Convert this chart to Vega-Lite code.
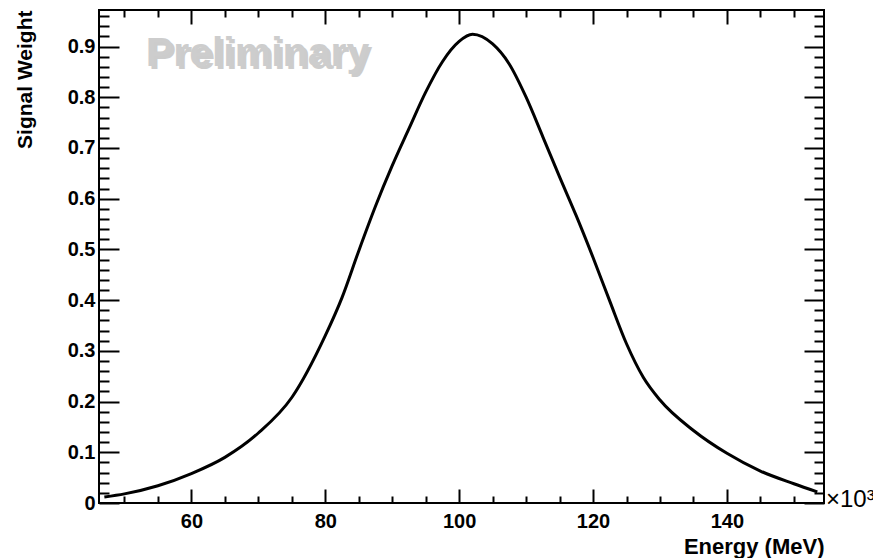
{
  "$schema": "https://vega.github.io/schema/vega-lite/v6.json",
  "width": 725,
  "height": 493,
  "autosize": {"type": "none"},
  "padding": {"left": 99, "top": 10, "right": 49, "bottom": 55},
  "background": "white",
  "config": {
    "view": {"stroke": "black", "strokeWidth": 2},
    "font": "Liberation Sans",
    "axis": {
      "domain": false,
      "grid": false,
      "tickColor": "black",
      "tickWidth": 2,
      "labelFont": "Liberation Sans",
      "labelFontWeight": "bold",
      "labelFontSize": 20,
      "labelColor": "black",
      "titleFont": "Liberation Sans",
      "titleFontWeight": "bold",
      "titleFontSize": 22,
      "titleColor": "black"
    }
  },
  "datasets": {
    "curve": [
      {"energy": 47.0, "weight": 0.012},
      {"energy": 50.0, "weight": 0.018},
      {"energy": 55.0, "weight": 0.034},
      {"energy": 60.0, "weight": 0.058},
      {"energy": 65.0, "weight": 0.090},
      {"energy": 70.0, "weight": 0.138},
      {"energy": 75.0, "weight": 0.208},
      {"energy": 80.0, "weight": 0.330},
      {"energy": 82.5, "weight": 0.405},
      {"energy": 85.0, "weight": 0.497},
      {"energy": 87.5, "weight": 0.585},
      {"energy": 90.0, "weight": 0.665},
      {"energy": 92.5, "weight": 0.738},
      {"energy": 95.0, "weight": 0.810},
      {"energy": 97.5, "weight": 0.870},
      {"energy": 100.0, "weight": 0.910},
      {"energy": 102.0, "weight": 0.924},
      {"energy": 105.0, "weight": 0.905},
      {"energy": 107.5, "weight": 0.865},
      {"energy": 110.0, "weight": 0.800},
      {"energy": 112.5, "weight": 0.722},
      {"energy": 115.0, "weight": 0.643},
      {"energy": 117.5, "weight": 0.566},
      {"energy": 120.0, "weight": 0.484},
      {"energy": 122.5, "weight": 0.398},
      {"energy": 125.0, "weight": 0.314},
      {"energy": 127.5, "weight": 0.248},
      {"energy": 130.0, "weight": 0.203},
      {"energy": 135.0, "weight": 0.143},
      {"energy": 140.0, "weight": 0.098},
      {"energy": 145.0, "weight": 0.063},
      {"energy": 150.0, "weight": 0.038},
      {"energy": 153.5, "weight": 0.022}
    ],
    "labels": [
      {"label": "×10³", "energy": 154.5, "weight": 0},
      {"label": "Preliminary", "energy": 53.2, "weight": 0.862}
    ]
  },
  "resolve": {"axis": {"x": "independent", "y": "independent"}},
  "layer": [
    {
      "data": {"name": "curve"},
      "mark": {"type": "line", "color": "black", "strokeWidth": 3, "interpolate": "monotone"},
      "encoding": {
        "x": {
          "field": "energy", "type": "quantitative",
          "scale": {"domain": [46.2, 154.5], "nice": false, "zero": false},
          "axis": {
            "orient": "bottom", "values": [60, 80, 100, 120, 140], "tickSize": -14,
            "labelPadding": 22, "title": "Energy (MeV)", "titleAnchor": "end",
            "titleAlign": "right", "titleX": 725, "titleY": 50, "titleBaseline": "alphabetic"
          }
        },
        "y": {
          "field": "weight", "type": "quantitative",
          "scale": {"domain": [0, 0.972], "nice": false, "zero": true},
          "axis": {
            "orient": "left", "values": [0, 0.1, 0.2, 0.3, 0.4, 0.5, 0.6, 0.7, 0.8, 0.9],
            "format": ".1~f", "tickSize": -20, "labelPadding": 24,
            "title": "Signal Weight", "titleAngle": -90, "titleAlign": "right",
            "titleBaseline": "middle", "titleX": -74, "titleY": 0, "titleFontSize": 21
          }
        }
      }
    },
    {
      "data": {"name": "curve"},
      "mark": {"type": "line", "opacity": 0},
      "encoding": {
        "x": {
          "field": "energy", "type": "quantitative",
          "scale": {"domain": [46.2, 154.5], "nice": false, "zero": false},
          "axis": {"orient": "bottom", "values": [50, 55, 65, 70, 75, 85, 90, 95, 105, 110, 115, 125, 130, 135, 145, 150], "tickSize": -7, "labels": false, "title": null}
        },
        "y": {
          "field": "weight", "type": "quantitative",
          "scale": {"domain": [0, 0.972], "nice": false},
          "axis": {"orient": "left", "values": [0.02, 0.04, 0.06, 0.08, 0.12, 0.14, 0.16, 0.18, 0.22, 0.24, 0.26, 0.28, 0.32, 0.34, 0.36, 0.38, 0.42, 0.44, 0.46, 0.48, 0.52, 0.54, 0.56, 0.58, 0.62, 0.64, 0.66, 0.68, 0.72, 0.74, 0.76, 0.78, 0.82, 0.84, 0.86, 0.88, 0.92, 0.94, 0.96], "tickSize": -10, "labels": false, "title": null}
        }
      }
    },
    {
      "data": {"name": "curve"},
      "mark": {"type": "line", "opacity": 0},
      "encoding": {
        "x": {
          "field": "energy", "type": "quantitative",
          "scale": {"domain": [46.2, 154.5], "nice": false, "zero": false},
          "axis": {"orient": "top", "values": [60, 80, 100, 120, 140], "tickSize": -14, "labels": false, "title": null}
        },
        "y": {
          "field": "weight", "type": "quantitative",
          "scale": {"domain": [0, 0.972], "nice": false},
          "axis": {"orient": "right", "values": [0, 0.1, 0.2, 0.3, 0.4, 0.5, 0.6, 0.7, 0.8, 0.9], "tickSize": -20, "labels": false, "title": null}
        }
      }
    },
    {
      "data": {"name": "curve"},
      "mark": {"type": "line", "opacity": 0},
      "encoding": {
        "x": {
          "field": "energy", "type": "quantitative",
          "scale": {"domain": [46.2, 154.5], "nice": false, "zero": false},
          "axis": {"orient": "top", "values": [50, 55, 65, 70, 75, 85, 90, 95, 105, 110, 115, 125, 130, 135, 145, 150], "tickSize": -7, "labels": false, "title": null}
        },
        "y": {
          "field": "weight", "type": "quantitative",
          "scale": {"domain": [0, 0.972], "nice": false},
          "axis": {"orient": "right", "values": [0.02, 0.04, 0.06, 0.08, 0.12, 0.14, 0.16, 0.18, 0.22, 0.24, 0.26, 0.28, 0.32, 0.34, 0.36, 0.38, 0.42, 0.44, 0.46, 0.48, 0.52, 0.54, 0.56, 0.58, 0.62, 0.64, 0.66, 0.68, 0.72, 0.74, 0.76, 0.78, 0.82, 0.84, 0.86, 0.88, 0.92, 0.94, 0.96], "tickSize": -10, "labels": false, "title": null}
        }
      }
    },
    {
      "data": {"name": "labels"},
      "transform": [{"filter": "datum.label === '×10³'"}],
      "mark": {"type": "text", "align": "left", "baseline": "middle", "dx": 2, "dy": -3, "fontSize": 24, "font": "Liberation Sans", "color": "black"},
      "encoding": {
        "text": {"field": "label"},
        "x": {"field": "energy", "type": "quantitative", "axis": null},
        "y": {"field": "weight", "type": "quantitative", "axis": null}
      }
    },
    {
      "data": {"name": "labels"},
      "transform": [{"filter": "datum.label === 'Preliminary'"}],
      "mark": {"type": "text", "align": "left", "baseline": "alphabetic", "dx": 3, "dy": 3, "fontSize": 41, "fontWeight": "bold", "font": "Liberation Sans", "color": "#9a9a9a", "opacity": 0.5},
      "encoding": {
        "text": {"field": "label"},
        "x": {"field": "energy", "type": "quantitative", "axis": null},
        "y": {"field": "weight", "type": "quantitative", "axis": null}
      }
    },
    {
      "data": {"name": "labels"},
      "transform": [{"filter": "datum.label === 'Preliminary'"}],
      "mark": {"type": "text", "align": "left", "baseline": "alphabetic", "fontSize": 41, "fontWeight": "bold", "font": "Liberation Sans", "color": "#cdcdcd"},
      "encoding": {
        "text": {"field": "label"},
        "x": {"field": "energy", "type": "quantitative", "axis": null},
        "y": {"field": "weight", "type": "quantitative", "axis": null}
      }
    }
  ]
}
